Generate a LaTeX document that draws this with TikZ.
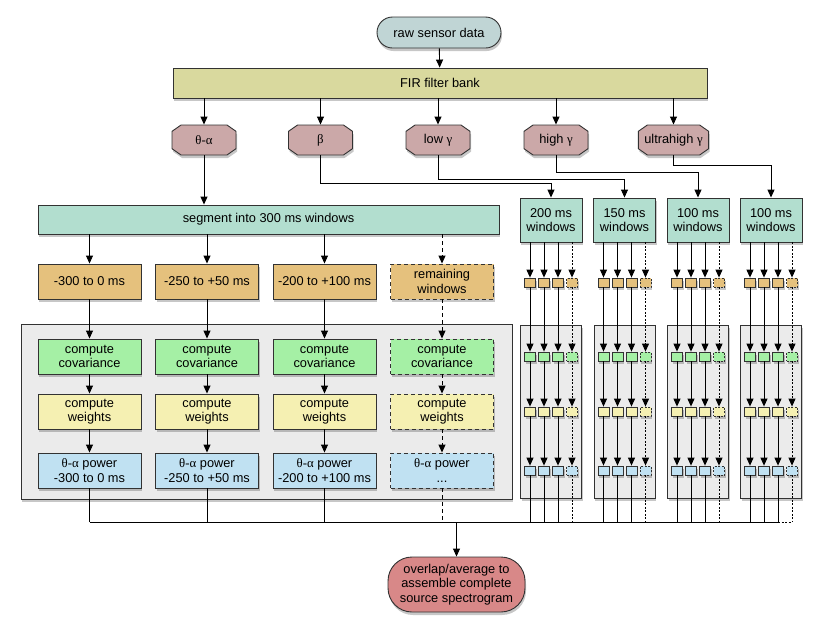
\documentclass[tikz,border=0pt]{standalone}
\usepackage{fontspec}
\setmainfont{Liberation Sans}
\newfontfamily\gkfont{Liberation Serif}
\newcommand{\gk}[1]{{\gkfont #1}}
\usetikzlibrary{arrows.meta,shapes.misc,shadows,calc}
\definecolor{rawc}{RGB}{192,213,213}
\definecolor{firc}{RGB}{217,217,158}
\definecolor{bandc}{RGB}{203,168,168}
\definecolor{segc}{RGB}{178,222,207}
\definecolor{winc}{RGB}{229,193,125}
\definecolor{covc}{RGB}{165,240,165}
\definecolor{wgtc}{RGB}{245,240,178}
\definecolor{powc}{RGB}{192,225,242}
\definecolor{panc}{RGB}{235,235,235}
\definecolor{outc}{RGB}{216,136,136}
\definecolor{edge}{RGB}{50,50,50}
\tikzset{
  shad/.style={drop shadow={shadow xshift=1pt,shadow yshift=-3pt,opacity=0.22,fill=black}},
  box/.style={draw=edge,line width=0.9pt,align=center,inner sep=2pt,shad,
    font=\fontsize{12.8}{14.5}\selectfont},
  bandbox/.style={box,chamfered rectangle,chamfered rectangle xsep=4pt,chamfered rectangle angle=55,
    fill=bandc,minimum width=64pt,minimum height=30pt},
  colbox/.style={box,minimum width=103pt,minimum height=35pt},
  winbox/.style={box,fill=segc,minimum width=62pt,minimum height=44pt},
  sq/.style={draw=edge,line width=0.8pt,minimum width=11pt,minimum height=9pt,inner sep=0pt,shad},
  panel/.style={draw=edge,line width=0.9pt,fill=panc,shad},
  arr/.style={-{Triangle[length=8pt,width=7pt]},line width=0.9pt,draw=black},
  ln/.style={line width=0.9pt,draw=black},
  dsh/.style={dash pattern=on 4pt off 3pt},
  dot/.style={dash pattern=on 2pt off 1.5pt},
}
\begin{document}
\begin{tikzpicture}[x=1pt,y=-1pt]
\useasboundingbox (0,0) rectangle (824,638);
% panels
\node[panel,minimum width=491pt,minimum height=175pt] (lp) at (266.5,411.5) {};
\foreach \i/\x in {1/551,2/624.5,3/698,4/771}{
  \node[panel,minimum width=61pt,minimum height=173pt] (rp\i) at (\x,411.5) {};
}
% top nodes
\node[box,fill=rawc,minimum width=124pt,minimum height=31pt,rounded corners=15.5pt] (raw) at (439,32.5) {raw sensor data};
\node[box,fill=firc,minimum width=534pt,minimum height=30pt] (fir) at (440,83) {FIR filter bank};
\node[bandbox] (b1) at (204,140) {\gk{θ-α}};
\node[bandbox] (b2) at (320.5,140) {\gk{β}};
\node[bandbox] (b3) at (438,140) {low \gk{γ}};
\node[bandbox] (b4) at (556,140) {high \gk{γ}};
\node[bandbox] (b5) at (673.5,140) {ultrahigh \gk{γ}};
\draw[arr] (raw) -- (fir);
\foreach \b in {b1,b2,b3,b4,b5}{ \draw[arr] (fir.south -| \b.north) -- (\b.north); }
% segment
\node[box,fill=segc,minimum width=461pt,minimum height=29pt] (seg) at (268.5,219.5) {segment into 300 ms windows};
\draw[arr] (b1.south) -- (b1.south |- seg.north);
% right window boxes
\node[winbox] (w1) at (551,220) {200 ms\\windows};
\node[winbox] (w2) at (624.5,220) {150 ms\\windows};
\node[winbox] (w3) at (698,220) {100 ms\\windows};
\node[winbox] (w4) at (771,220) {100 ms\\windows};
\draw[arr] (b2.south) |- (551,183.7) -- (w1.north);
\draw[arr] (b3.south) |- (624.5,179) -- (w2.north);
\draw[arr] (b4.south) |- (698,172.7) -- (w3.north);
\draw[arr] (b5.south) |- (771,165.7) -- (w4.north);
% bottom collector
\node[box,fill=outc,minimum width=137pt,minimum height=55pt,rounded corners=24pt] (out) at (456.5,584.5) {overlap/average to\\assemble complete\\source spectrogram};
\coordinate (bot) at (456.5,522);
\draw[arr] (bot) -- (out.north);
% left columns
\foreach \c/\x/\t/\p in {1/89.5/{-300 to 0 ms}/{-300 to 0 ms},2/207/{-250 to +50 ms}/{-250 to +50 ms},3/324.5/{-200 to +100 ms}/{-200 to +100 ms}}{
  \node[colbox,fill=winc] (o\c) at (\x,281.5) {\t};
  \node[colbox,fill=covc] (c\c) at (\x,356.5) {compute\\covariance};
  \node[colbox,fill=wgtc] (g\c) at (\x,411.5) {compute\\weights};
  \node[colbox,fill=powc] (p\c) at (\x,470.5) {\gk{θ-α} power\\\p};
  \draw[arr] (seg.south -| o\c.north) -- (o\c.north);
  \draw[arr] (o\c) -- (c\c);
  \draw[arr] (c\c) -- (g\c);
  \draw[arr] (g\c) -- (p\c);
  \draw[ln] (p\c.south) -- (p\c.south |- bot);
}
\node[colbox,fill=winc,dsh] (o4) at (442,281.5) {remaining\\windows};
\node[colbox,fill=covc,dsh] (c4) at (442,356.5) {compute\\covariance};
\node[colbox,fill=wgtc,dsh] (g4) at (442,411.5) {compute\\weights};
\node[colbox,fill=powc,dsh] (p4) at (442,470.5) {\gk{θ-α} power\\...};
\draw[arr,dsh] (seg.south -| o4.north) -- (o4.north);
\draw[arr,dsh] (o4) -- (c4);
\draw[arr,dsh] (c4) -- (g4);
\draw[arr,dsh] (g4) -- (p4);
\draw[ln,dsh] (p4.south) -- (p4.south |- bot);
% right grids
\foreach \i/\x in {1/551,2/624.5,3/698,4/771}{
  \foreach \k/\dx in {1/-21,2/-7,3/7}{
    \node[sq,fill=winc] (so\i\k) at (\x+\dx,282.5) {};
    \node[sq,fill=covc] (sc\i\k) at (\x+\dx,356.5) {};
    \node[sq,fill=wgtc] (sg\i\k) at (\x+\dx,411.5) {};
    \node[sq,fill=powc] (sp\i\k) at (\x+\dx,470.5) {};
    \draw[arr] (w\i.south -| so\i\k.north) -- (so\i\k.north);
    \draw[arr] (so\i\k) -- (sc\i\k);
    \draw[arr] (sc\i\k) -- (sg\i\k);
    \draw[arr] (sg\i\k) -- (sp\i\k);
    \draw[ln] (sp\i\k.south) -- (sp\i\k.south |- bot);
  }
  \node[sq,fill=winc,dot] (so\i4) at (\x+21,282.5) {};
  \node[sq,fill=covc,dot] (sc\i4) at (\x+21,356.5) {};
  \node[sq,fill=wgtc,dot] (sg\i4) at (\x+21,411.5) {};
  \node[sq,fill=powc,dot] (sp\i4) at (\x+21,470.5) {};
  \draw[arr,dot] (w\i.south -| so\i4.north) -- (so\i4.north);
  \draw[arr,dot] (so\i4) -- (sc\i4);
  \draw[arr,dot] (sc\i4) -- (sg\i4);
  \draw[arr,dot] (sg\i4) -- (sp\i4);
  \draw[ln,dot] (sp\i4.south) -- (sp\i4.south |- bot);
}
\draw[ln] (p1.south |- bot) -- (sp43.south |- bot);
\draw[ln,dot] (sp43.south |- bot) -- (sp44.south |- bot);
\end{tikzpicture}
\end{document}
